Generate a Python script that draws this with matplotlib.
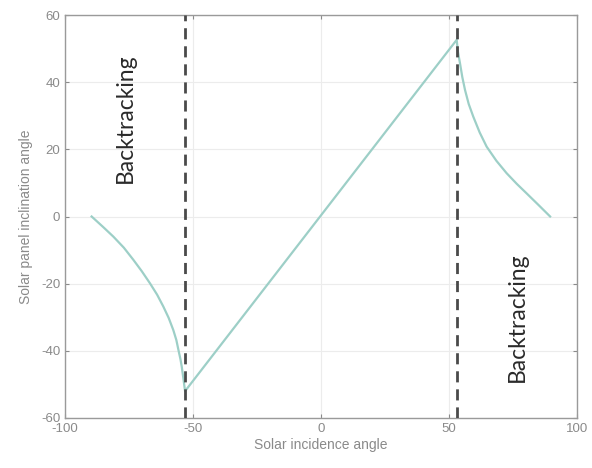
import matplotlib.pyplot as plt

# solar incidence angle vs panel inclination angle
incidence = [-89.6, -85, -81.1, -77, -73.3, -70, -66.8, -64, -61.6, -59.5,
             -57.7, -56.5, -55.7, -54.9, -54.4, -53.8, -53.1,
             53, 53.5, 54.3, 55.2, 56.25, 57.7, 59.5, 62, 64.7, 68.5, 72.5,
             76.5, 80.3, 85, 89.5]
inclination = [0, -3.2, -6.0, -9.3, -12.9, -16.3, -19.9, -23.3, -26.8, -30.2,
               -33.8, -36.8, -39.7, -42.5, -44.7, -48.0, -52.0,
               52.6, 49.0, 45.6, 41.5, 37.7, 33.5, 29.7, 25.0, 20.8, 16.6,
               12.9, 9.7, 6.9, 3.4, 0]
limit_angles = [-53, 53]

x_ticks = [-100, -50, 0, 50, 100]
y_ticks = [-60, -40, -20, 0, 20, 40, 60]

grey = '#8a8a8a'
plt.rcParams['font.family'] = ['Liberation Sans', 'DejaVu Sans']
plt.rcParams['axes.unicode_minus'] = False

fig = plt.figure(figsize=(5.92, 4.68), dpi=100)
ax = fig.add_axes([65 / 592, 50 / 468, 512 / 592, 403 / 468])

ax.plot(incidence, inclination, color='#9dcfc7', lw=1.6, zorder=3)
for a in limit_angles:
    ax.axvline(a, color='#4a4a4a', lw=2.0, ls=(0, (4, 2.5)), zorder=4)

ax.text(-76.6, 29.3, 'Backtracking', rotation=90, ha='center', va='center',
        fontsize=16.5, family=['Lato', 'DejaVu Sans'], color='#2a2a2a')
ax.text(76.6, -29.9, 'Backtracking', rotation=90, ha='center', va='center',
        fontsize=16.5, family=['Lato', 'DejaVu Sans'], color='#2a2a2a')

ax.set_xlim(-100, 100)
ax.set_ylim(-60, 60)
ax.set_xticks(x_ticks)
ax.set_yticks(y_ticks)
ax.grid(True, color='#ececec', lw=0.8)
ax.set_axisbelow(True)
ax.tick_params(direction='in', top=True, right=True, colors=grey,
               labelsize=9.5, length=3)
for s in ax.spines.values():
    s.set_color('#9a9a9a')
    s.set_linewidth(1.0)

ax.set_xlabel('Solar incidence angle', color=grey, fontsize=10, labelpad=2)
ax.set_ylabel('Solar panel inclination angle', color=grey, fontsize=10,
              labelpad=6)

plt.savefig('out.png', dpi=100)
